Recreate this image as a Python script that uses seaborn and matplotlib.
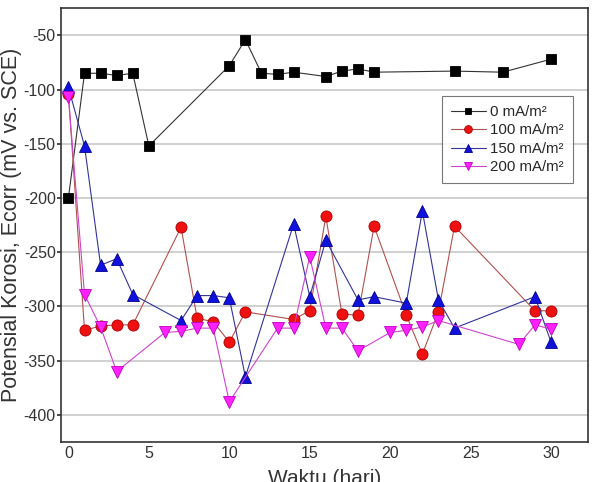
import matplotlib
matplotlib.use("Agg")
import matplotlib.pyplot as plt
import seaborn as sns
import pandas as pd

# ---- data ----
x0 = [0, 1, 2, 3, 4, 5, 10, 11, 12, 13, 14, 16, 17, 18, 19, 24, 27, 30]
y0 = [-200, -85, -85, -87, -85, -152, -78, -54, -85, -86, -84, -88, -83, -81, -84, -83, -84, -72]

x100 = [0, 1, 2, 3, 4, 7, 8, 9, 10, 11, 14, 15, 16, 17, 18, 19, 21, 22, 23, 24, 29, 30]
y100 = [-104, -322, -318, -317, -317, -227, -311, -314, -333, -305, -312, -304, -217,
        -307, -308, -226, -308, -344, -305, -226, -304, -304]

x150 = [0, 1, 2, 3, 4, 7, 8, 9, 10, 11, 14, 15, 16, 18, 19, 21, 22, 23, 24, 29, 30]
y150 = [-98, -152, -262, -256, -289, -313, -290, -290, -292, -365, -224, -291, -239,
        -294, -291, -297, -212, -294, -320, -291, -333]

x200 = [0, 1, 2, 3, 6, 7, 8, 9, 10, 13, 14, 15, 16, 17, 18, 20, 21, 22, 23, 28, 29, 30]
y200 = [-107, -289, -319, -360, -324, -323, -320, -320, -388, -320, -320, -254, -320,
        -320, -341, -324, -322, -319, -313, -335, -317, -321]

labels = ["0 mA/m²", "100 mA/m²", "150 mA/m²", "200 mA/m²"]
xticks = [0, 5, 10, 15, 20, 25, 30]
yticks = [-50, -100, -150, -200, -250, -300, -350, -400]

series = [(x0, y0), (x100, y100), (x150, y150), (x200, y200)]
frames = []
for lab, (xs, ys) in zip(labels, series):
    frames.append(pd.DataFrame({"x": xs, "y": ys, "s": lab}))
df = pd.concat(frames, ignore_index=True)

# ---- style ----
sns.set_theme(style="white")
plt.rcParams["font.family"] = ["Liberation Sans", "DejaVu Sans"]
plt.rcParams["axes.unicode_minus"] = False

fig = plt.figure(figsize=(5.94, 4.82), dpi=100)
ax = fig.add_axes([0.103, 0.083, 0.887, 0.9])

styles = {
    labels[0]: dict(line="#333333", face="black", edge="black", marker="s", ms=7),
    labels[1]: dict(line="#b05050", face="#ee1111", edge="#aa0000", marker="o", ms=8),
    labels[2]: dict(line="#333399", face="#1111dd", edge="#000088", marker="^", ms=8),
    labels[3]: dict(line="#cc44cc", face="#ff22ff", edge="#bb00bb", marker="v", ms=8),
}

for lab in labels:
    st = styles[lab]
    sub = df[df["s"] == lab]
    sns.lineplot(data=sub, x="x", y="y", ax=ax, color=st["line"], linewidth=0.8,
                 marker=st["marker"], markersize=st["ms"], markerfacecolor=st["face"],
                 markeredgecolor=st["edge"], markeredgewidth=0.6, estimator=None,
                 label=lab)

ax.set_xlim(-0.45, 32.3)
ax.set_ylim(-425, -25)
ax.set_xticks(xticks)
ax.set_yticks(yticks)
ax.yaxis.grid(True, color="#c8c8c8", linewidth=1.2)
ax.xaxis.grid(False)
for sp in ax.spines.values():
    sp.set_color("#333333")
    sp.set_linewidth(1.2)
ax.tick_params(axis="y", labelsize=11.5, labelcolor="#333333", length=3,
               color="#333333", direction="out", left=True, pad=1)
ax.tick_params(axis="x", labelsize=11.5, labelcolor="#333333", length=0,
               bottom=True, pad=3)
ax.set_xlabel("Waktu (hari)", fontsize=15, color="#333333", labelpad=6)
ax.set_ylabel("Potensial Korosi, Ecorr (mV vs. SCE)", fontsize=15.5, color="#333333")
ax.yaxis.set_label_coords(-0.075, 0.5)

leg = ax.legend(loc="upper right", bbox_to_anchor=(0.985, 0.815), fontsize=10.8,
                frameon=True, fancybox=False, edgecolor="#555555", markerscale=0.7,
                handlelength=2.3, handletextpad=0.3, borderpad=0.6, labelspacing=0.3)
leg.get_frame().set_linewidth(0.8)

fig.savefig("out.png", dpi=100)
